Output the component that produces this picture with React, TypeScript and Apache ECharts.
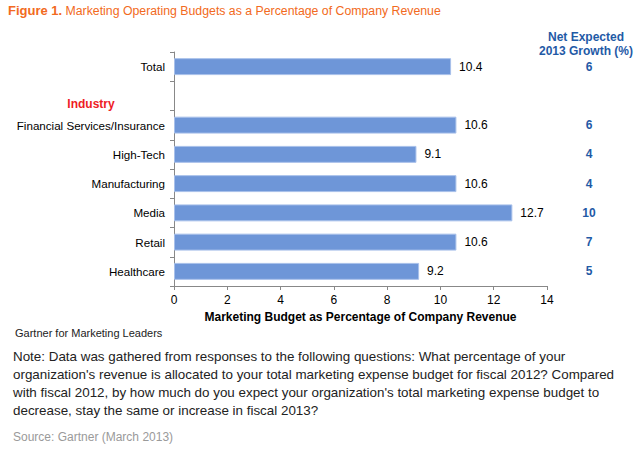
import React, { useEffect, useRef } from "react";
import * as echarts from "echarts";

const categories = ["Total", "", "Financial Services/Insurance", "High-Tech", "Manufacturing", "Media", "Retail", "Healthcare"];
const budgetValues: (number | null)[] = [10.4, null, 10.6, 9.1, 10.6, 12.7, 10.6, 9.2];
const growthLabels = ["6", "", "6", "4", "4", "10", "7", "5"];
const noteLines = [
  "Note: Data was gathered from responses to the following questions: What percentage of your",
  "organization's revenue is allocated to your total marketing expense budget for fiscal 2012? Compared",
  "with fiscal 2012, by how much do you expect your organization's total marketing expense budget to",
  "decrease, stay the same or increase in fiscal 2013?",
];

export default function App() {
  const ref = useRef<HTMLDivElement>(null);
  useEffect(() => {
    if (!ref.current) return;
    const chart = echarts.init(ref.current, null, { renderer: "svg" });
    const font = "Liberation Sans, Arial, sans-serif";
    const graphics: any[] = [
      {
        type: "text",
        left: 8,
        top: 4,
        style: {
          text: "{b|Figure 1.} {n|Marketing Operating Budgets as a Percentage of Company Revenue}",
          rich: {
            b: { fontFamily: font, fontWeight: "bold", fontSize: 13, fill: "#f26a21" },
            n: { fontFamily: font, fontSize: 12.3, fill: "#f26a21" },
          },
        },
      },
      {
        type: "text",
        x: 586,
        y: 43.5,
        style: {
          text: "Net Expected\n2013 Growth (%)",
          fontFamily: font,
          fontWeight: "bold",
          fontSize: 12,
          lineHeight: 14,
          fill: "#1f5aa6",
          align: "center",
          verticalAlign: "middle",
        },
      },
      {
        type: "text",
        x: 91,
        y: 104,
        style: {
          text: "Industry",
          fontFamily: font,
          fontWeight: "bold",
          fontSize: 12,
          fill: "#ee1c24",
          align: "center",
          verticalAlign: "middle",
        },
      },
      {
        type: "text",
        x: 15,
        y: 333,
        style: { text: "Gartner for Marketing Leaders", fontFamily: font, fontSize: 11, fill: "#222", verticalAlign: "middle" },
      },
      ...noteLines.map((t, i) => ({
        type: "text",
        x: 13,
        y: 356 + i * 18,
        style: { text: t, fontFamily: font, fontSize: 13.4, fill: "#222", verticalAlign: "middle" },
      })),
      {
        type: "text",
        x: 13,
        y: 437,
        style: { text: "Source: Gartner (March 2013)", fontFamily: font, fontSize: 12, fill: "#9a9a9a", verticalAlign: "middle" },
      },
    ];
    chart.setOption({
      animation: false,
      grid: { left: 174, right: 97, top: 52, bottom: 169, containLabel: false },
      xAxis: {
        type: "value",
        min: 0,
        max: 14,
        interval: 2,
        splitLine: { show: false },
        axisLine: { show: true, lineStyle: { color: "#888" } },
        axisTick: { show: true, length: 4, lineStyle: { color: "#888" } },
        axisLabel: { fontFamily: font, fontSize: 12, color: "#000", margin: 8 },
        name: "Marketing Budget as Percentage of Company Revenue",
        nameLocation: "middle",
        nameGap: 22,
        nameTextStyle: { fontFamily: font, fontSize: 12, fontWeight: "bold", color: "#000" },
      },
      yAxis: [
        {
          type: "category",
          data: categories,
          inverse: true,
          axisLine: { show: true, lineStyle: { color: "#888" } },
          axisTick: { show: true, length: 4, lineStyle: { color: "#888" } },
          axisLabel: { fontFamily: font, fontSize: 11.6, color: "#000", margin: 9 },
        },
        {
          type: "category",
          data: growthLabels,
          inverse: true,
          position: "right",
          axisLine: { show: false },
          axisTick: { show: false },
          axisLabel: { fontFamily: font, fontSize: 12, fontWeight: "bold", color: "#1f5aa6", margin: 42, align: "center" },
        },
      ],
      series: [
        {
          type: "bar",
          data: budgetValues,
          barCategoryGap: "42%",
          itemStyle: { color: "#6e96d8", borderColor: "#a8c0ea", borderWidth: 1 },
          label: {
            show: true,
            position: "right",
            distance: 8,
            fontFamily: font,
            fontSize: 12,
            color: "#000",
          },
        },
      ],
      graphic: graphics,
    });
    return () => chart.dispose();
  }, []);
  return <div ref={ref} style={{ position: "absolute", left: 0, top: 0, width: 644, height: 455, background: "#fff" }} />;
}
